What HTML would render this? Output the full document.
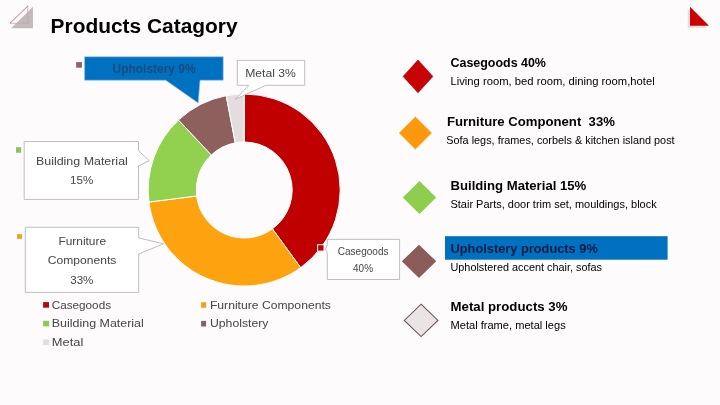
<!DOCTYPE html>
<html lang="en">
<head>
<meta charset="utf-8">
<title>Products Catagory</title>
<style>
html,body{margin:0;padding:0;background:#fdfbfb;}
body{width:720px;height:405px;overflow:hidden;}
svg{display:block;font-family:'Liberation Sans', sans-serif;}
</style>
</head>
<body>
<svg width="720" height="405" viewBox="0 0 720 405">
<rect x="0" y="0" width="720" height="405" fill="#fdfbfb"/>
<polygon points="33,6.7 33,28.2 11.1,28.2" fill="#c0bcbc"/>
<polyline points="27.8,6 27.8,23.3 10,23.3" fill="none" stroke="#dc9aaa" stroke-width="0.8"/><line x1="10" y1="23.3" x2="27.8" y2="6" stroke="#b4647c" stroke-width="0.9"/>
<polygon points="687.8,9 687.8,27.8 706.5,27.8" fill="#e3dfdf"/>
<polygon points="690,6.8 690,25.8 709,25.8" fill="#cd0000"/>
<text x="50.6" y="32.6" font-size="20" font-weight="bold" fill="#000" text-anchor="start" textLength="187" lengthAdjust="spacingAndGlyphs">Products Catagory</text>
<path d="M244.20,94.00 A96.0,96.0 0 0 1 300.63,267.67 L272.41,228.83 A48.0,48.0 0 0 0 244.20,142.00 Z" fill="#c00000" stroke="#ffffff" stroke-width="1" stroke-linejoin="round"/>
<path d="M300.63,267.67 A96.0,96.0 0 0 1 148.96,202.03 L196.58,196.02 A48.0,48.0 0 0 0 272.41,228.83 Z" fill="#fea310" stroke="#ffffff" stroke-width="1" stroke-linejoin="round"/>
<path d="M148.96,202.03 A96.0,96.0 0 0 1 178.48,120.02 L211.34,155.01 A48.0,48.0 0 0 0 196.58,196.02 Z" fill="#92d050" stroke="#ffffff" stroke-width="1" stroke-linejoin="round"/>
<path d="M178.48,120.02 A96.0,96.0 0 0 1 226.21,95.70 L235.21,142.85 A48.0,48.0 0 0 0 211.34,155.01 Z" fill="#8d5f5d" stroke="#ffffff" stroke-width="1" stroke-linejoin="round"/>
<path d="M226.21,95.70 A96.0,96.0 0 0 1 244.20,94.00 L244.20,142.00 A48.0,48.0 0 0 0 235.21,142.85 Z" fill="#e4dddd" stroke="#ffffff" stroke-width="1" stroke-linejoin="round"/>

<polygon points="84.6,56.8 223.2,56.8 223.2,80.2 200,80.2 198.2,103 165.75,80.2 84.6,80.2" fill="#0070c0" stroke="#8fc0e8" stroke-width="0.6"/>
<text x="112.6" y="73.1" font-size="12" font-weight="bold" fill="#1b4a7c" text-anchor="start" textLength="83" lengthAdjust="spacingAndGlyphs">Upholstery 9%</text>
<rect x="76.1" y="62.1" width="5.9" height="5.6" fill="#8e6470"/>
<polygon points="237.3,60.4 304.7,60.4 304.7,85.3 265.9,85.3 235.3,99.3 248.9,85.3 237.3,85.3" fill="#fff" stroke="#bfbfbf" stroke-width="1"/>
<text x="245.2" y="76.7" font-size="11" font-weight="normal" fill="#454545" text-anchor="start" textLength="50.6" lengthAdjust="spacingAndGlyphs">Metal 3%</text>
<polygon points="24.2,141.5 138.5,141.5 138.5,150.8 149.2,160.6 138.5,166 138.5,199.4 24.2,199.4" fill="#fff" stroke="#bfbfbf" stroke-width="1"/>
<text x="36" y="164.8" font-size="11" font-weight="normal" fill="#454545" text-anchor="start" textLength="91.8" lengthAdjust="spacingAndGlyphs">Building Material</text>
<text x="70" y="183.75" font-size="11" font-weight="normal" fill="#454545" text-anchor="start" textLength="23.2" lengthAdjust="spacingAndGlyphs">15%</text>
<rect x="16" y="147.2" width="5.1" height="5.6" fill="#93bf5c"/>
<polygon points="25.3,227.3 138.7,227.3 138.7,237.9 163.5,243.8 138.7,254 138.7,292.4 25.3,292.4" fill="#fff" stroke="#bfbfbf" stroke-width="1"/>
<text x="58.4" y="245" font-size="11" font-weight="normal" fill="#454545" text-anchor="start" textLength="47.7" lengthAdjust="spacingAndGlyphs">Furniture</text>
<text x="47.8" y="263.9" font-size="11" font-weight="normal" fill="#454545" text-anchor="start" textLength="68.5" lengthAdjust="spacingAndGlyphs">Components</text>
<text x="70.2" y="283.5" font-size="11" font-weight="normal" fill="#454545" text-anchor="start" textLength="23.2" lengthAdjust="spacingAndGlyphs">33%</text>
<rect x="17" y="234.1" width="5" height="4.8" fill="#f0a521"/>
<polygon points="327.3,239.35 399.6,239.35 399.6,279.5 327.3,279.5 327.3,253.5 325.6,249.2 327.3,244.4" fill="#fff" stroke="#bfbfbf" stroke-width="1"/>
<text x="337.7" y="255.3" font-size="10.5" font-weight="normal" fill="#454545" text-anchor="start" textLength="50.8" lengthAdjust="spacingAndGlyphs">Casegoods</text>
<text x="353.1" y="271.7" font-size="10.5" font-weight="normal" fill="#454545" text-anchor="start" textLength="19.9" lengthAdjust="spacingAndGlyphs">40%</text>
<rect x="317.6" y="244.7" width="6.4" height="6.4" fill="#c00000" stroke="#fff" stroke-width="1"/>
<rect x="43.1" y="302.1" width="5.9" height="5.6" fill="#b9060c"/>
<text x="51.8" y="308.8" font-size="11.2" font-weight="normal" fill="#454545" text-anchor="start" textLength="59.2" lengthAdjust="spacingAndGlyphs">Casegoods</text>
<rect x="201.1" y="302.2" width="5" height="5.6" fill="#f2a31c"/>
<text x="209.9" y="308.8" font-size="11.2" font-weight="normal" fill="#454545" text-anchor="start" textLength="121" lengthAdjust="spacingAndGlyphs">Furniture Components</text>
<rect x="43.1" y="320.8" width="5.9" height="5.6" fill="#8fc855"/>
<text x="51.8" y="327" font-size="11.2" font-weight="normal" fill="#454545" text-anchor="start" textLength="92" lengthAdjust="spacingAndGlyphs">Building Material</text>
<rect x="201.1" y="320.9" width="5" height="5.6" fill="#8b5e6c"/>
<text x="209.9" y="327" font-size="11.2" font-weight="normal" fill="#454545" text-anchor="start" textLength="58.6" lengthAdjust="spacingAndGlyphs">Upholstery</text>
<rect x="43.1" y="339.5" width="5.9" height="5.6" fill="#e4dddd"/>
<text x="51.8" y="345.6" font-size="11.2" font-weight="normal" fill="#454545" text-anchor="start" textLength="31.5" lengthAdjust="spacingAndGlyphs">Metal</text>
<polygon points="418,60.00000000000001 432.9,76.4 418,92.80000000000001 403.1,76.4" fill="#c70303" stroke="#9c0000" stroke-width="0.6"/>
<text x="450.5" y="66.7" font-size="12.3" font-weight="bold" fill="#000" text-anchor="start" textLength="95.4" lengthAdjust="spacingAndGlyphs">Casegoods 40%</text>
<text x="450.5" y="85" font-size="11" font-weight="normal" fill="#000" text-anchor="start" textLength="204.2" lengthAdjust="spacingAndGlyphs">Living room, bed room, dining room,hotel</text>
<polygon points="415.4,116.8 431.7,133 415.4,149.2 399.09999999999997,133" fill="#fb990e" stroke="#ffc050" stroke-width="0.7"/>
<text x="446.9" y="125.6" font-size="12.5" font-weight="bold" fill="#000" text-anchor="start" textLength="168" lengthAdjust="spacingAndGlyphs" style="white-space:pre">Furniture Component  33%</text>
<text x="446.3" y="144.2" font-size="11" font-weight="normal" fill="#000" text-anchor="start" textLength="228.3" lengthAdjust="spacingAndGlyphs">Sofa legs, frames, corbels &amp; kitchen island post</text>
<polygon points="419.5,181.1 436.2,197.5 419.5,213.9 402.8,197.5" fill="#8ecd4e"/>
<text x="450.5" y="189.8" font-size="12.5" font-weight="bold" fill="#000" text-anchor="start" textLength="135.8" lengthAdjust="spacingAndGlyphs">Building Material 15%</text>
<text x="450.5" y="208.3" font-size="11" font-weight="normal" fill="#000" text-anchor="start" textLength="206.2" lengthAdjust="spacingAndGlyphs">Stair Parts, door trim set, mouldings, block</text>
<rect x="445" y="236.2" width="222.6" height="23.5" fill="#0070c0"/>
<polygon points="419,244.70000000000002 436.2,261.3 419,277.90000000000003 401.8,261.3" fill="#8b5b5a"/>
<text x="450.5" y="253.3" font-size="12.5" font-weight="bold" fill="#041c40" text-anchor="start" textLength="147.3" lengthAdjust="spacingAndGlyphs">Upholstery products 9%</text>
<text x="450.5" y="271.3" font-size="11" font-weight="normal" fill="#000" text-anchor="start" textLength="151.4" lengthAdjust="spacingAndGlyphs">Upholstered accent chair, sofas</text>
<polygon points="421.1,304.2 437.90000000000003,320.4 421.1,336.59999999999997 404.3,320.4" fill="#ece4e4" stroke="#6a5757" stroke-width="1.1"/>
<text x="450.5" y="310.6" font-size="12.5" font-weight="bold" fill="#000" text-anchor="start" textLength="117" lengthAdjust="spacingAndGlyphs">Metal products 3%</text>
<text x="450.5" y="328.75" font-size="11" font-weight="normal" fill="#000" text-anchor="start" textLength="115.2" lengthAdjust="spacingAndGlyphs">Metal frame, metal legs</text>
</svg>
</body>
</html>
